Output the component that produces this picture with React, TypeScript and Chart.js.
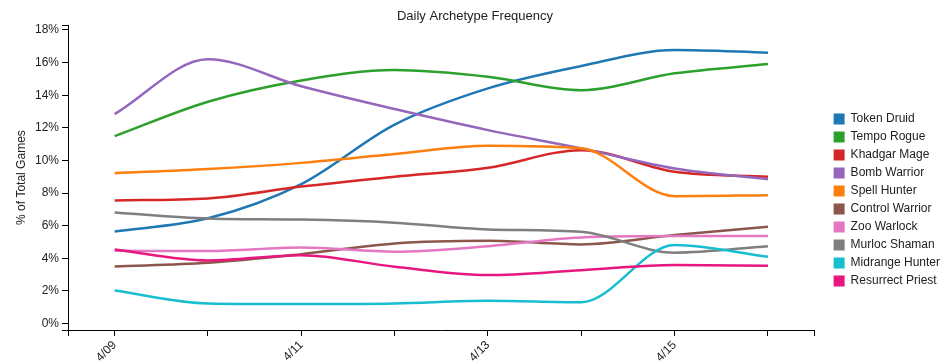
import React, { useEffect, useRef } from 'react';
import { Chart, registerables } from 'chart.js';
Chart.register(...registerables);

const dates = ['4/09', '4/10', '4/11', '4/12', '4/13', '4/14', '4/15', '4/16'];
const shownDateLabels = ['4/09', '4/11', '4/13', '4/15'];
const yTickValues = [0, 2, 4, 6, 8, 10, 12, 14, 16, 18];

const seriesNames = [
  'Token Druid', 'Tempo Rogue', 'Khadgar Mage', 'Bomb Warrior', 'Spell Hunter',
  'Control Warrior', 'Zoo Warlock', 'Murloc Shaman', 'Midrange Hunter', 'Resurrect Priest',
];
const seriesColors = [
  '#1f77b4', '#2ca02c', '#d62728', '#9467bd', '#ff7f0e',
  '#8c564b', '#e377c2', '#7f7f7f', '#17becf', '#e8177f',
];

const tokenDruid = [5.64, 6.45, 8.55, 12.2, 14.42, 15.79, 16.77, 16.61];
const tempoRogue = [11.49, 13.6, 14.9, 15.54, 15.13, 14.31, 15.34, 15.91];
const khadgarMage = [7.55, 7.67, 8.4, 9.0, 9.55, 10.63, 9.3, 9.0];
const bombWarrior = [12.84, 16.2, 14.55, 13.15, 11.86, 10.74, 9.51, 8.85];
const spellHunter = [9.22, 9.47, 9.85, 10.39, 10.9, 10.74, 7.81, 7.87];
const controlWarrior = [3.5, 3.72, 4.25, 4.91, 5.07, 4.85, 5.42, 5.93];
const zooWarlock = [4.46, 4.44, 4.66, 4.4, 4.74, 5.28, 5.36, 5.36];
const murlocShaman = [6.81, 6.44, 6.37, 6.18, 5.77, 5.62, 4.34, 4.74];
const midrangeHunter = [2.02, 1.23, 1.19, 1.23, 1.39, 1.3, 4.81, 4.09];
const resurrectPriest = [4.54, 3.87, 4.19, 3.48, 2.97, 3.27, 3.58, 3.54];

const seriesValues = [
  tokenDruid, tempoRogue, khadgarMage, bombWarrior, spellHunter,
  controlWarrior, zooWarlock, murlocShaman, midrangeHunter, resurrectPriest,
];

const X_MIN = -0.5;
const X_MAX = 7.5;
const Y_MIN = -0.4;
const Y_MAX = 18.3;

export default function App() {
  const ref = useRef<HTMLCanvasElement>(null);

  useEffect(() => {
    if (!ref.current) return;
    Chart.defaults.font.family = "'Liberation Sans', Arial, sans-serif";
    const textColor = '#222';
    const datasets = seriesNames.map((name, i) => ({
      label: name,
      data: seriesValues[i].map((v, j) => ({ x: j, y: v })),
      borderColor: seriesColors[i],
      backgroundColor: seriesColors[i],
      borderWidth: 2.5,
      pointRadius: 0,
      fill: false,
      cubicInterpolationMode: 'monotone' as const,
      order: -i,
    }));

    const chart = new Chart(ref.current, {
      type: 'line',
      data: { datasets },
      options: {
        animation: false,
        responsive: false,
        devicePixelRatio: 1,
        events: [],
        layout: { padding: { left: 0, right: 1, top: 0, bottom: 0 } },
        plugins: {
          title: {
            display: true,
            text: 'Daily Archetype Frequency',
            color: textColor,
            font: { size: 13, weight: 'normal' },
            padding: { top: 9, bottom: 0.5 },
          },
          legend: {
            position: 'right',
            align: 'center',
            title: {
              display: true,
              text: '',
              font: { size: 10, lineHeight: 1 },
              padding: { top: 26, bottom: 0 },
            },
            labels: {
              boxWidth: 11,
              boxHeight: 11,
              padding: 6,
              color: textColor,
              font: { size: 12 },
              sort: (a: any, b: any) => a.datasetIndex - b.datasetIndex,
              generateLabels: (c: any) =>
                Chart.defaults.plugins.legend.labels
                  .generateLabels(c)
                  .map((l: any) => ({ ...l, lineWidth: 0 })),
            },
          },
          tooltip: { enabled: false },
        },
        scales: {
          x: {
            type: 'linear',
            min: X_MIN,
            max: X_MAX,
            afterBuildTicks: (axis: any) => {
              axis.ticks = [X_MIN, ...dates.map((_, i) => i), X_MAX].map((v) => ({ value: v }));
            },
            afterFit: (s: any) => {
              s.height = 34;
            },
            grid: { drawOnChartArea: false, tickLength: 6, color: '#000' },
            border: { color: '#000' },
            ticks: {
              autoSkip: false,
              minRotation: 45,
              maxRotation: 45,
              padding: 2,
              color: textColor,
              font: { size: 12 },
              callback: (v: any) => {
                const label = Number.isInteger(v) ? dates[v] : '';
                return label && shownDateLabels.includes(label) ? label : '';
              },
            },
          },
          y: {
            type: 'linear',
            min: Y_MIN,
            max: Y_MAX,
            afterBuildTicks: (axis: any) => {
              axis.ticks = [Y_MIN, ...yTickValues, Y_MAX].map((v) => ({ value: v }));
            },
            afterFit: (s: any) => {
              s.width = 68;
            },
            grid: { drawOnChartArea: false, tickLength: 6, color: '#000' },
            border: { color: '#000' },
            ticks: {
              padding: 3,
              color: textColor,
              font: { size: 12 },
              callback: (v: any) => (yTickValues.includes(v) ? v + '%' : ''),
            },
            title: {
              display: true,
              text: '% of Total Games',
              color: textColor,
              font: { size: 12 },
              padding: { top: 14, bottom: 0 },
            },
          },
          gap: {
            type: 'linear',
            position: 'right',
            display: true,
            grid: { display: false },
            border: { display: false },
            ticks: { display: false },
            afterFit: (s: any) => {
              s.width = 13;
            },
          },
        },
      },
    } as any);
    return () => chart.destroy();
  }, []);

  return (
    <div style={{ position: 'absolute', left: 0, top: 0, width: 951, height: 364 }}>
      <canvas ref={ref} width={951} height={364} style={{ display: 'block' }} />
    </div>
  );
}
